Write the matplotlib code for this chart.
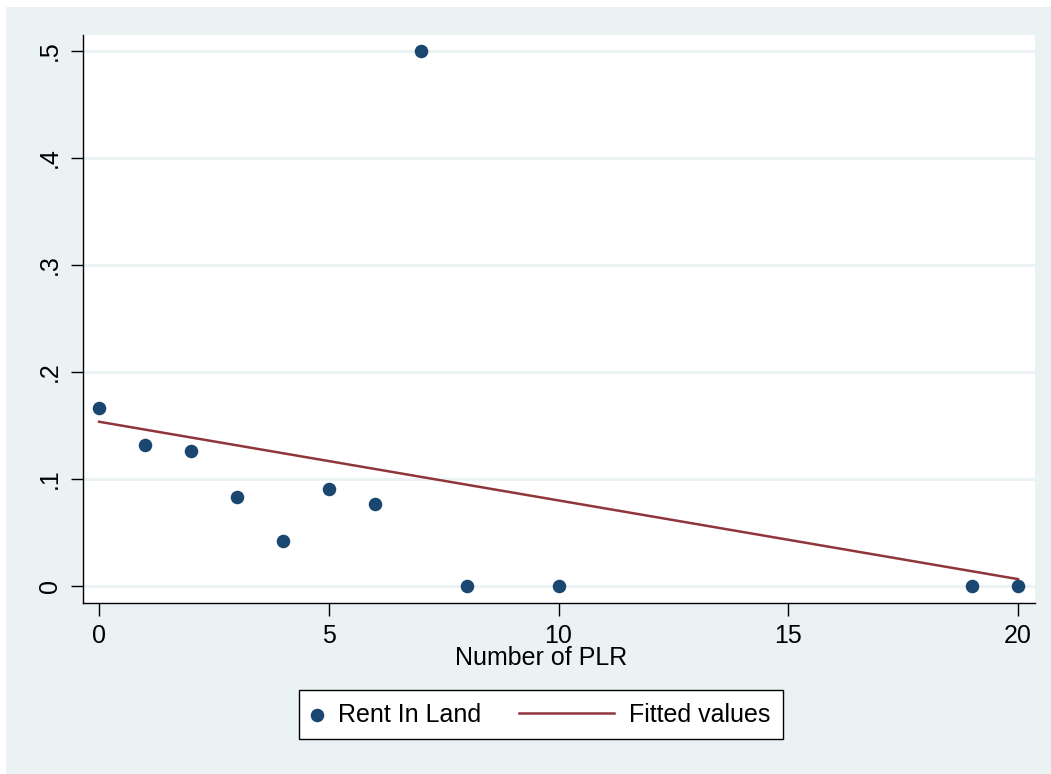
import numpy as np
import matplotlib
matplotlib.use("Agg")
import matplotlib.pyplot as plt
from matplotlib.patches import Rectangle
from matplotlib.legend_handler import HandlerLine2D

plt.rcParams['font.family'] = ['Liberation Sans', 'DejaVu Sans']

# mean share renting in land, by number of PLR
num_plr = [0, 1, 2, 3, 4, 5, 6, 7, 8, 10, 19, 20]
rent_in = [0.1667, 0.1316, 0.126, 0.0833, 0.0417, 0.0909, 0.0769, 0.5, 0.0, 0.0, 0.0, 0.0]
y_ticks = [0, 0.1, 0.2, 0.3, 0.4, 0.5]
y_ticklabels = ['0', '.1', '.2', '.3', '.4', '.5']
x_ticks = [0, 5, 10, 15, 20]

navy = '#1a476f'
maroon = '#90353b'
bg = '#eaf2f3'


class LongLine(HandlerLine2D):
    # legend line that reaches further left than the handle box
    def create_artists(self, legend, orig_handle, xdescent, ydescent, width, height, fontsize, trans):
        extra = 3.32 * fontsize
        return super().create_artists(legend, orig_handle, xdescent + extra, ydescent,
                                      width + extra, height, fontsize, trans)


fig = plt.figure(figsize=(10.51, 7.74), dpi=100, facecolor='white')
fig.add_artist(Rectangle((6 / 1051, 0), 1, 1 - 7 / 774, transform=fig.transFigure,
                         facecolor=bg, edgecolor='none', zorder=-10))

ax = fig.add_axes([83 / 1051, 1 - 603 / 774, (1035 - 83) / 1051, (603 - 35) / 774])
ax.set_facecolor('white')

# linear fit
slope, intercept = np.polyfit(num_plr, rent_in, 1)
xfit = np.array([min(num_plr), max(num_plr)])

ax.scatter(num_plr, rent_in, s=95, color=navy, zorder=3, label='Rent In Land', linewidths=0)
fit_line, = ax.plot(xfit, intercept + slope * xfit, color=maroon, lw=1.8, zorder=2,
                    label='Fitted values')

ax.set_xlim(-0.35, 20.37)
ax.set_ylim(-0.0159, 0.515)
ax.set_yticks(y_ticks)
ax.set_yticklabels(y_ticklabels, rotation=90, va='center')
ax.set_xticks(x_ticks)
ax.grid(axis='y', color=bg, lw=2, zorder=1)
ax.set_axisbelow(True)

for s in ['top', 'right']:
    ax.spines[s].set_visible(False)
for s in ['left', 'bottom']:
    ax.spines[s].set_color('black')
    ax.spines[s].set_linewidth(1.0)

ax.tick_params(axis='both', direction='out', length=9, width=1, labelsize=18, colors='black', pad=6)
ax.set_xlabel('Number of PLR', fontsize=18, labelpad=0)
ax.xaxis.set_label_coords((541 - 83) / 952, -0.075)

h, l = ax.get_legend_handles_labels()
leg = fig.legend(h, l, loc='center', bbox_to_anchor=(541 / 1051, 1 - 714.5 / 774), ncol=2,
                 fontsize=18, frameon=True, fancybox=False, edgecolor='black',
                 facecolor='white', framealpha=1, scatterpoints=1,
                 handlelength=0.48, columnspacing=4.84, handletextpad=0.6, borderpad=0.5,
                 handler_map={fit_line: LongLine()})
leg.get_frame().set_linewidth(1.0)

fig.savefig('out.png', dpi=100, facecolor=fig.get_facecolor())
